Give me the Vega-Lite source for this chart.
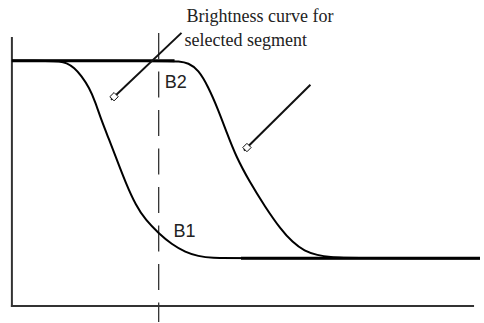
{
  "$schema": "https://vega.github.io/schema/vega-lite/v6.json",
  "width": 484,
  "height": 323,
  "autosize": {"type": "fit", "contains": "padding"},
  "padding": 0,
  "background": "white",
  "config": {"view": {"stroke": null}},
  "datasets": {
    "curves": [
      {"series": "c1", "x": 12, "y": 61}, {"series": "c1", "x": 50, "y": 61}, {"series": "c1", "x": 60, "y": 61.5}, {"series": "c1", "x": 67, "y": 63},
      {"series": "c1", "x": 75, "y": 68}, {"series": "c1", "x": 82, "y": 76}, {"series": "c1", "x": 90, "y": 88},
      {"series": "c1", "x": 96, "y": 102}, {"series": "c1", "x": 102, "y": 120}, {"series": "c1", "x": 110, "y": 140},
      {"series": "c1", "x": 117, "y": 158}, {"series": "c1", "x": 127, "y": 184}, {"series": "c1", "x": 137, "y": 206},
      {"series": "c1", "x": 147, "y": 221}, {"series": "c1", "x": 160, "y": 234}, {"series": "c1", "x": 173, "y": 245},
      {"series": "c1", "x": 187, "y": 253}, {"series": "c1", "x": 200, "y": 257}, {"series": "c1", "x": 213, "y": 259},
      {"series": "c1", "x": 240, "y": 259}, {"series": "c1", "x": 484, "y": 259},
      {"series": "c2", "x": 12, "y": 61}, {"series": "c2", "x": 170, "y": 61}, {"series": "c2", "x": 180, "y": 61.5}, {"series": "c2", "x": 190, "y": 63},
      {"series": "c2", "x": 200, "y": 70}, {"series": "c2", "x": 210, "y": 87}, {"series": "c2", "x": 220, "y": 110},
      {"series": "c2", "x": 229, "y": 134}, {"series": "c2", "x": 238, "y": 157}, {"series": "c2", "x": 252, "y": 183},
      {"series": "c2", "x": 267, "y": 207}, {"series": "c2", "x": 283, "y": 230}, {"series": "c2", "x": 295, "y": 243},
      {"series": "c2", "x": 307, "y": 252}, {"series": "c2", "x": 320, "y": 256}, {"series": "c2", "x": 333, "y": 258},
      {"series": "c2", "x": 350, "y": 259}, {"series": "c2", "x": 484, "y": 259}
    ],
    "plateaus": [
      {"name": "high", "x": 12, "x2": 176, "y": 61, "y2": 61},
      {"name": "low", "x": 243, "x2": 484, "y": 259, "y2": 259}
    ],
    "axes": [
      {"name": "left", "x": 12, "x2": 12, "y": 37, "y2": 308},
      {"name": "bottom", "x": 11, "x2": 478, "y": 307, "y2": 307}
    ],
    "dashed": [
      {"name": "segment", "x": 160, "x2": 160, "y": 33, "y2": 323}
    ],
    "leaders": [
      {"name": "l1", "x": 183, "x2": 112, "y": 33, "y2": 100},
      {"name": "l2", "x": 313, "x2": 246, "y": 85, "y2": 151}
    ],
    "markers": [
      {"name": "m1", "x": 115, "y": 97},
      {"name": "m2", "x": 249, "y": 148}
    ],
    "notes": [
      {"text": "Brightness curve for", "x": 188, "y": 22},
      {"text": "selected segment", "x": 186, "y": 46}
    ],
    "labels": [
      {"text": "B2", "x": 166, "y": 88},
      {"text": "B1", "x": 175, "y": 238}
    ]
  },
  "layer": [
    {
      "data": {"name": "axes"},
      "mark": {"type": "rule", "color": "#333333", "strokeWidth": 2},
      "encoding": {
        "x": {"field": "x", "type": "quantitative", "scale": {"domain": [0, 484], "nice": false, "zero": false}, "axis": null},
        "x2": {"field": "x2"},
        "y": {"field": "y", "type": "quantitative", "scale": {"domain": [0, 323], "nice": false, "zero": false, "reverse": true}, "axis": null},
        "y2": {"field": "y2"}
      }
    },
    {
      "data": {"name": "dashed"},
      "mark": {"type": "rule", "color": "#333333", "strokeWidth": 1.3, "strokeDash": [26, 12.5]},
      "encoding": {
        "x": {"field": "x", "type": "quantitative"},
        "x2": {"field": "x2"},
        "y": {"field": "y", "type": "quantitative"},
        "y2": {"field": "y2"}
      }
    },
    {
      "data": {"name": "curves"},
      "mark": {"type": "line", "color": "#000000", "strokeWidth": 2, "interpolate": "basis"},
      "encoding": {
        "x": {"field": "x", "type": "quantitative"},
        "y": {"field": "y", "type": "quantitative"},
        "detail": {"field": "series"}
      }
    },
    {
      "data": {"name": "plateaus"},
      "mark": {"type": "rule", "color": "#000000", "strokeWidth": 3},
      "encoding": {
        "x": {"field": "x", "type": "quantitative"},
        "x2": {"field": "x2"},
        "y": {"field": "y", "type": "quantitative"},
        "y2": {"field": "y2"}
      }
    },
    {
      "data": {"name": "leaders"},
      "mark": {"type": "rule", "color": "#111111", "strokeWidth": 2},
      "encoding": {
        "x": {"field": "x", "type": "quantitative"},
        "x2": {"field": "x2"},
        "y": {"field": "y", "type": "quantitative"},
        "y2": {"field": "y2"}
      }
    },
    {
      "data": {"name": "markers"},
      "mark": {"type": "point", "shape": "diamond", "size": 70, "filled": false, "fill": "white", "fillOpacity": 1, "stroke": "#111111", "strokeWidth": 1, "opacity": 1},
      "encoding": {
        "x": {"field": "x", "type": "quantitative"},
        "y": {"field": "y", "type": "quantitative"}
      }
    },
    {
      "data": {"name": "notes"},
      "mark": {"type": "text", "align": "left", "baseline": "alphabetic", "font": "Liberation Serif", "fontSize": 18, "color": "#222222"},
      "encoding": {
        "x": {"field": "x", "type": "quantitative"},
        "y": {"field": "y", "type": "quantitative"},
        "text": {"field": "text"}
      }
    },
    {
      "data": {"name": "labels"},
      "mark": {"type": "text", "align": "left", "baseline": "alphabetic", "font": "Liberation Sans Narrow, Liberation Sans", "fontSize": 18, "color": "#222222"},
      "encoding": {
        "x": {"field": "x", "type": "quantitative"},
        "y": {"field": "y", "type": "quantitative"},
        "text": {"field": "text"}
      }
    }
  ]
}
